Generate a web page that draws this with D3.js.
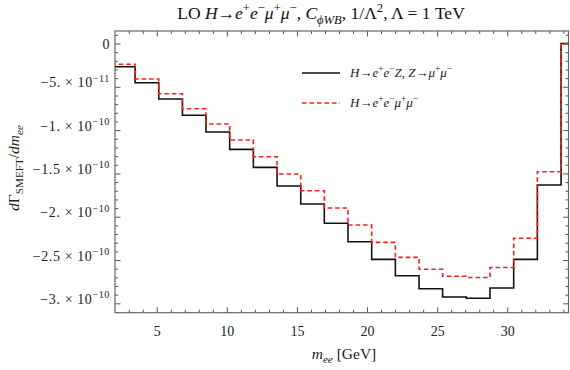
<!DOCTYPE html>
<html>
<head>
<meta charset="utf-8">
<script src="https://cdn.jsdelivr.net/npm/d3@7"></script>
<style>
  body { margin: 0; background: #fff; }
  svg { display: block; font-family: "Liberation Serif", "Times New Roman", serif; }
</style>
</head>
<body>
<svg id="chart"></svg>
<script>
// bin edges in m_ee [GeV] (first and last bins run past the frame)
const binEdges = [1.76, 3.45, 5.14, 6.83, 8.51, 10.20, 11.89, 13.58, 15.27, 16.95, 18.64,
                  20.33, 22.02, 23.71, 25.39, 27.08, 28.77, 30.46, 32.15, 33.84, 35.53];

// H -> e+ e- Z, Z -> mu+ mu-
const viaZ = [-2.68e-11, -4.53e-11, -6.41e-11, -8.29e-11, -1.022e-10, -1.222e-10, -1.430e-10,
              -1.645e-10, -1.853e-10, -2.076e-10, -2.289e-10, -2.492e-10, -2.681e-10, -2.831e-10,
              -2.927e-10, -2.942e-10, -2.823e-10, -2.492e-10, -1.634e-10, 0];

// H -> e+ e- mu+ mu-
const fourLepton = [-2.40e-11, -4.10e-11, -5.80e-11, -7.53e-11, -9.30e-11, -1.114e-10, -1.307e-10,
                    -1.507e-10, -1.700e-10, -1.900e-10, -2.096e-10, -2.296e-10, -2.469e-10, -2.607e-10,
                    -2.688e-10, -2.702e-10, -2.587e-10, -2.249e-10, -1.480e-10, 0];

const xTicks = [5, 10, 15, 20, 25, 30];
const yTicks = [0, -5e-11, -1e-10, -1.5e-10, -2e-10, -2.5e-10, -3e-10];
const yTickMantissa = ['0', '−5.', '−1.', '−1.5', '−2.', '−2.5', '−3.'];
const yTickExponent = ['', '−11', '−10', '−10', '−10', '−10', '−10'];

const config = {
    width: 570,
    height: 370,
    margin: { top: 31, right: 1.5, bottom: 57.3, left: 115 },
    xDomain: [2.02, 34.37],
    yDomain: [-3.108e-10, 1.443e-11],
    frameColour: '#666',
    tickColour: '#444',
    fontSize: 14
};

const svg = d3.select('#chart')
    .attr('width', config.width)
    .attr('height', config.height);

const innerW = config.width - config.margin.left - config.margin.right;
const innerH = config.height - config.margin.top - config.margin.bottom;

const xScale = d3.scaleLinear().domain(config.xDomain).range([0, innerW]);
const yScale = d3.scaleLinear().domain(config.yDomain).range([innerH, 0]);

const chart = svg.append('g')
    .attr('transform', `translate(${config.margin.left},${config.margin.top})`);

svg.append('defs').append('clipPath').attr('id', 'plot-clip')
    .append('rect').attr('width', innerW).attr('height', innerH);

// text with italic / super / subscript pieces
function addRich(textSel, parts, size) {
    let shift = 0;
    parts.forEach(p => {
        const small = p.sup || p.sub;
        const target = p.sup ? -0.4 * size : p.sub ? 0.28 * size : 0;
        textSel.append('tspan')
            .attr('dy', target - shift)
            .attr('font-size', small ? size * 0.72 : size)
            .attr('font-style', p.i ? 'italic' : 'normal')
            .text(p.t);
        shift = target;
    });
}

// ---- axes: ticks on all four sides, pointing inward ----
const xMinor = d3.range(3, 35).filter(v => v % 5 !== 0);
const yMinor = d3.range(-31, 2).filter(v => v % 5 !== 0).map(v => v * 1e-11);

function styleAxis(g) {
    g.select('.domain').remove();
    g.selectAll('.tick line').attr('stroke', config.tickColour).attr('stroke-width', 0.9);
}

chart.append('g').attr('transform', `translate(0,${innerH})`)
    .call(d3.axisBottom(xScale).tickValues(xMinor).tickSize(-3).tickFormat(''))
    .call(styleAxis);
chart.append('g')
    .call(d3.axisTop(xScale).tickValues(xMinor).tickSize(-3).tickFormat(''))
    .call(styleAxis);
chart.append('g')
    .call(d3.axisTop(xScale).tickValues(xTicks).tickSize(-5.5).tickFormat(''))
    .call(styleAxis);

const xAxisG = chart.append('g').attr('transform', `translate(0,${innerH})`)
    .call(d3.axisBottom(xScale).tickValues(xTicks).tickSize(-5.5).tickPadding(13))
    .call(styleAxis);
xAxisG.selectAll('.tick text')
    .attr('font-family', 'Liberation Serif, serif')
    .attr('font-size', config.fontSize)
    .attr('fill', '#222');

chart.append('g')
    .call(d3.axisLeft(yScale).tickValues(yMinor).tickSize(-3).tickFormat(''))
    .call(styleAxis);
chart.append('g').attr('transform', `translate(${innerW},0)`)
    .call(d3.axisRight(yScale).tickValues(yMinor).tickSize(-3).tickFormat(''))
    .call(styleAxis);
chart.append('g').attr('transform', `translate(${innerW},0)`)
    .call(d3.axisRight(yScale).tickValues(yTicks).tickSize(-5.5).tickFormat(''))
    .call(styleAxis);

const yAxisG = chart.append('g')
    .call(d3.axisLeft(yScale).tickValues(yTicks).tickSize(-5.5).tickFormat(''))
    .call(styleAxis);

yAxisG.selectAll('.tick').each(function (d, i) {
    const t = d3.select(this).append('text')
        .attr('x', -5)
        .attr('dy', '0.35em')
        .attr('text-anchor', 'end')
        .attr('fill', '#222')
        .attr('letter-spacing', 0.6)
        .attr('font-family', 'Liberation Serif, serif')
        .attr('font-size', config.fontSize);
    if (yTickExponent[i] === '') {
        t.text(yTickMantissa[i]);
    } else {
        addRich(t, [{ t: yTickMantissa[i] + ' × 10' }, { t: yTickExponent[i], sup: true }], config.fontSize);
    }
});

// frame
chart.append('rect')
    .attr('width', innerW)
    .attr('height', innerH)
    .attr('fill', 'none')
    .attr('stroke', config.frameColour)
    .attr('stroke-width', 1.2);

// ---- histogram steps ----
function stepPoints(values) {
    const pts = values.map((v, i) => [binEdges[i], v]);
    pts.push([binEdges[values.length], values[values.length - 1]]);
    return pts;
}

const stepLine = d3.line()
    .x(d => xScale(d[0]))
    .y(d => yScale(d[1]))
    .curve(d3.curveStepAfter);

const plotArea = chart.append('g').attr('clip-path', 'url(#plot-clip)');

plotArea.append('path')
    .datum(stepPoints(viaZ))
    .attr('fill', 'none')
    .attr('stroke', '#111')
    .attr('stroke-width', 1.6)
    .attr('d', stepLine);

plotArea.append('path')
    .datum(stepPoints(fourLepton))
    .attr('fill', 'none')
    .attr('stroke', '#ff1a1a')
    .attr('stroke-width', 1.6)
    .attr('stroke-dasharray', '4.5,3')
    .attr('d', stepLine);

// ---- legend ----
const legend = svg.append('g').attr('transform', 'translate(302,0)');
legend.append('line')
    .attr('x1', 0).attr('x2', 38).attr('y1', 73).attr('y2', 73)
    .attr('stroke', '#111').attr('stroke-width', 1.6);
legend.append('line')
    .attr('x1', 0).attr('x2', 38).attr('y1', 103).attr('y2', 103)
    .attr('stroke', '#ff1a1a').attr('stroke-width', 1.6).attr('stroke-dasharray', '4.5,3');

addRich(legend.append('text').attr('x', 48).attr('y', 77).attr('fill', '#222'), [
    { t: 'H', i: true }, { t: '→' }, { t: 'e', i: true }, { t: '+', sup: true },
    { t: 'e', i: true }, { t: '−', sup: true }, { t: 'Z', i: true }, { t: ', ' },
    { t: 'Z', i: true }, { t: '→' }, { t: 'μ', i: true }, { t: '+', sup: true },
    { t: 'μ', i: true }, { t: '−', sup: true }
], 13);

addRich(legend.append('text').attr('x', 48).attr('y', 107).attr('fill', '#222'), [
    { t: 'H', i: true }, { t: '→' }, { t: 'e', i: true }, { t: '+', sup: true },
    { t: 'e', i: true }, { t: '−', sup: true }, { t: 'μ', i: true }, { t: '+', sup: true },
    { t: 'μ', i: true }, { t: '−', sup: true }
], 13);

// ---- title and axis labels ----
addRich(svg.append('text').attr('x', 321).attr('y', 19).attr('text-anchor', 'middle').attr('fill', '#111'), [
    { t: 'LO ' }, { t: 'H', i: true }, { t: '→' }, { t: 'e', i: true }, { t: '+', sup: true },
    { t: 'e', i: true }, { t: '−', sup: true }, { t: 'μ', i: true }, { t: '+', sup: true },
    { t: 'μ', i: true }, { t: '−', sup: true }, { t: ', ' }, { t: 'C', i: true },
    { t: 'ϕWB', i: true, sub: true }, { t: ', 1/Λ' }, { t: '2', sup: true }, { t: ', Λ = 1 TeV' }
], 17.5);

addRich(svg.append('text').attr('x', 344).attr('y', 359).attr('text-anchor', 'middle').attr('fill', '#222'), [
    { t: 'm', i: true }, { t: 'ee', i: true, sub: true }, { t: ' [GeV]' }
], 15.5);

addRich(svg.append('text')
    .attr('transform', 'translate(19,168) rotate(-90)')
    .attr('text-anchor', 'middle').attr('fill', '#222'), [
    { t: 'd', i: true }, { t: 'Γ' }, { t: 'SMEFT', sub: true }, { t: '/' },
    { t: 'dm', i: true }, { t: 'ee', i: true, sub: true }
], 15.5);
</script>
</body>
</html>
